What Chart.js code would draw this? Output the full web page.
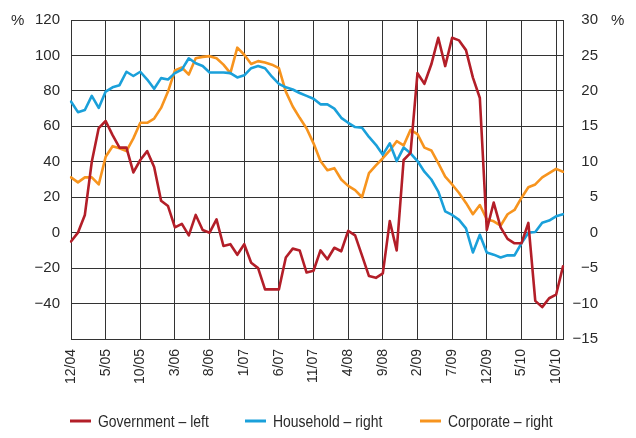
<!DOCTYPE html>
<html><head><meta charset="utf-8">
<script src="https://cdn.jsdelivr.net/npm/chart.js@4"></script>
<style>html,body{margin:0;padding:0;background:#fff}#wrap{width:636px;height:438px}</style>
</head><body><div id="wrap"><canvas id="c" width="636" height="438"></canvas></div>
<script>
const months = ["12/04",
 "1/05","2/05","3/05","4/05","5/05","6/05","7/05","8/05","9/05","10/05","11/05","12/05",
 "1/06","2/06","3/06","4/06","5/06","6/06","7/06","8/06","9/06","10/06","11/06","12/06",
 "1/07","2/07","3/07","4/07","5/07","6/07","7/07","8/07","9/07","10/07","11/07","12/07",
 "1/08","2/08","3/08","4/08","5/08","6/08","7/08","8/08","9/08","10/08","11/08","12/08",
 "1/09","2/09","3/09","4/09","5/09","6/09","7/09","8/09","9/09","10/09","11/09","12/09",
 "1/10","2/10","3/10","4/10","5/10","6/10","7/10","8/10","9/10","10/10","11/10"];

// Government – left axis (%)
const government = [-5, 0, 10, 40, 59, 63, 55, 48, 48, 34, 41, 46, 37, 18, 15, 3, 5, -1.5, 10, 1.5,
 0, 7.5, -7.5, -6.5, -12.5, -6.5, -17, -20, -32, -32, -32, -14, -9, -10, -22.5, -21.5, -10, -15, -8.5, -10.5,
 1, -1.5, -13, -24.5, -25.5, -23, 6.5, -10, 41, 45, 90, 84, 95, 110, 94, 110, 108.5, 103, 87.5, 76,
 1.5, 17, 3, -3.5, -6, -6, 5.5, -38.5, -42, -37, -35, -19];

// Household – right axis (%)
const household = [18.5, 17.0, 17.3, 19.3, 17.6, 19.9, 20.5, 20.8, 22.7, 22.1, 22.7, 21.6, 20.3, 21.8, 21.6, 22.5, 23.0, 24.6, 23.9, 23.5,
 22.6, 22.6, 22.6, 22.5, 21.9, 22.2, 23.2, 23.5, 23.2, 22.0, 21.0, 20.5, 20.2, 19.7, 19.3, 18.9, 18.1, 18.1, 17.5, 16.2,
 15.5, 14.9, 14.8, 13.5, 12.4, 11.0, 12.6, 10.1, 12.0, 11.2, 10.1, 8.6, 7.5, 5.8, 3.0, 2.5, 1.8, 0.6, -2.8, -0.3,
 -2.8, -3.1, -3.5, -3.2, -3.2, -1.5, 0.0, 0.1, 1.4, 1.7, 2.3, 2.6];

// Corporate – right axis (%)
const corporate = [7.8, 7.1, 7.8, 7.8, 6.8, 10.7, 12.2, 11.9, 11.5, 13.3, 15.5, 15.5, 16.1, 17.6, 19.9, 22.9, 23.3, 22.3, 24.6, 24.8,
 24.9, 24.6, 23.7, 22.5, 26.1, 25.1, 23.8, 24.2, 24.0, 23.7, 23.2, 19.9, 17.8, 16.2, 14.7, 12.6, 10.1, 8.8, 9.1, 7.5,
 6.6, 6.0, 5.0, 8.4, 9.5, 10.5, 11.6, 12.9, 12.3, 14.5, 13.9, 12.0, 11.6, 9.8, 7.9, 6.8, 5.6, 4.2, 2.6, 3.9,
 1.9, 1.6, 1.0, 2.6, 3.2, 4.9, 6.4, 6.8, 7.8, 8.4, 9.0, 8.6];

const seriesNames = ["Government – left", "Household – right", "Corporate – right"];
const seriesColors = ["#B31E28", "#1AA0DA", "#F7941E"];
const leftRange = [-60, 120, 20];
const rightRange = [-15, 30, 5];

const textColor = "#2a2a2a";
const gridColor = "#333333";
const fam = "'Liberation Sans', Arial, sans-serif";
const fmt = v => String(v).replace('-', '\u2212');

const extras = {
  id: 'extras',
  afterDraw(chart) {
    const ctx = chart.ctx;
    const yTop = chart.scales.y.getPixelForValue(leftRange[1]);
    ctx.save();
    ctx.fillStyle = textColor;
    ctx.font = "15px " + fam;
    ctx.textBaseline = 'middle';
    ctx.textAlign = 'left';
    ctx.fillText('%', 11, yTop + 1);
    ctx.fillText('%', 611, yTop + 1);
    // legend
    ctx.font = "17px " + fam;
    const ly = 421;
    chart.data.datasets.forEach((ds, k) => {
      const x0 = 70 + k * 175;
      ctx.strokeStyle = ds.borderColor;
      ctx.lineWidth = 3;
      ctx.beginPath();
      ctx.moveTo(x0, ly);
      ctx.lineTo(x0 + 21, ly);
      ctx.stroke();
      ctx.fillStyle = textColor;
      ctx.save();
      ctx.translate(x0 + 28, ly + 1);
      ctx.scale(0.82, 1);
      ctx.fillText(ds.label, 0, 0);
      ctx.restore();
    });
    ctx.restore();
  }
};

new Chart(document.getElementById('c'), {
  type: 'line',
  data: {
    labels: months,
    datasets: [
      { label: seriesNames[0], data: government, yAxisID: 'y', borderColor: seriesColors[0] },
      { label: seriesNames[1], data: household, yAxisID: 'y1', borderColor: seriesColors[1] },
      { label: seriesNames[2], data: corporate, yAxisID: 'y1', borderColor: seriesColors[2] }
    ]
  },
  options: {
    responsive: false,
    animation: false,
    devicePixelRatio: 1,
    layout: { padding: { top: 14, left: 0, right: 38, bottom: 0 } },
    elements: {
      line: { borderWidth: 2.6, tension: 0, fill: false, borderJoinStyle: 'round', borderCapStyle: 'round' },
      point: { radius: 0, hoverRadius: 0 }
    },
    plugins: { legend: { display: false }, tooltip: { enabled: false } },
    scales: {
      x: {
        type: 'category',
        offset: false,
        grid: {
          color: c => (c.index % 5 === 0 ? gridColor : 'rgba(0,0,0,0)'),
          lineWidth: 1,
          drawTicks: false
        },
        border: { display: true, color: gridColor, width: 1 },
        ticks: {
          autoSkip: false, minRotation: 90, maxRotation: 90, padding: 10,
          color: textColor, font: { family: fam, size: 14 },
          callback: (v, i) => (i % 5 === 0 ? months[i] : '')
        },
        afterFit: s => { s.height = 99; }
      },
      y: {
        position: 'left',
        min: leftRange[0], max: leftRange[1],
        grid: { color: gridColor, lineWidth: 1, drawTicks: false },
        border: { display: true, color: gridColor, width: 1 },
        ticks: {
          stepSize: leftRange[2], padding: 11, color: textColor, font: { family: fam, size: 15 },
          callback: v => (v === leftRange[0] ? '' : fmt(v))
        },
        afterFit: s => { s.width = 71; }
      },
      y1: {
        position: 'right',
        min: rightRange[0], max: rightRange[1],
        grid: { drawOnChartArea: false, drawTicks: false },
        border: { display: true, color: gridColor, width: 1 },
        ticks: {
          stepSize: rightRange[2], padding: 11, crossAlign: 'far', color: textColor, font: { family: fam, size: 15 },
          callback: v => fmt(v)
        },
        afterFit: s => { s.width = 35; }
      }
    }
  },
  plugins: [extras]
});
</script></body></html>
